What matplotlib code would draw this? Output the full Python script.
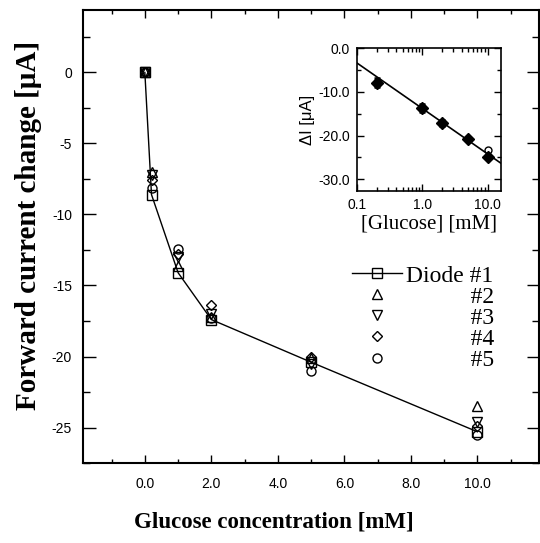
import numpy as np
import matplotlib
matplotlib.use("Agg")
import matplotlib.pyplot as plt
from matplotlib.ticker import MultipleLocator, LogLocator, FixedLocator, NullFormatter

# ---- data ----
glucose = [0.0, 0.2, 1.0, 2.0, 5.0, 10.0]
diode1 = [0.0, -8.6, -14.1, -17.4, -20.4, -25.3]
diode2 = [0.0, -7.0, -13.6, -17.2, -20.1, -23.5]
diode3 = [0.0, -7.2, -13.0, -17.0, -20.5, -24.6]
diode4 = [0.0, -7.6, -12.8, -16.4, -20.0, -24.9]
diode5 = [0.0, -8.1, -12.4, -17.3, -21.0, -25.5]
series_labels = ["Diode #1", "#2", "#3", "#4", "#5"]

inset_glucose = [0.2, 1.0, 2.0, 5.0, 10.0]
inset_mean = [-7.9, -13.7, -17.1, -20.8, -24.9]
inset_err = [1.0, 1.0, 0.6, 0.5, 0.5]
inset_open_x = [10.0]
inset_open_y = [-23.4]
fit_at_1mM = -13.8
fit_slope_per_decade = -10.4

xticks = [0, 2, 4, 6, 8, 10]
xticklabels = ["0.0", "2.0", "4.0", "6.0", "8.0", "10.0"]
yticks = [0, -5, -10, -15, -20, -25]
yticklabels = ["0", "-5", "-10", "-15", "-20", "-25"]
inset_xticks = [0.1, 1.0, 10.0]
inset_xticklabels = ["0.1", "1.0", "10.0"]
inset_yticks = [0, -10, -20, -30]
inset_yticklabels = ["0.0", "-10.0", "-20.0", "-30.0"]

serif = ["Liberation Serif", "DejaVu Serif"]
sans = ["Liberation Sans", "DejaVu Sans"]

fig = plt.figure(figsize=(5.40, 5.43), dpi=100)
ax = fig.add_axes([0.1537, 0.1473, 0.8443, 0.8343])

indent = " " * 11
labs = [series_labels[0]] + [indent + s for s in series_labels[1:]]

mk = dict(color="black", mfc="none", mec="black", ms=6.5, mew=1.0)
ax.plot(glucose, diode1, marker="s", lw=1.0, label=labs[0], **mk)
ax.plot(glucose, diode2, marker="^", ls="none", label=labs[1], **mk)
ax.plot(glucose, diode3, marker="v", ls="none", label=labs[2], **mk)
ax.plot(glucose, diode4, marker="D", ls="none", label=labs[3], **dict(mk, ms=5.5))
ax.plot(glucose, diode5, marker="o", ls="none", label=labs[4], **mk)

ax.set_xlim(-1.86, 11.85)
ax.set_ylim(-27.5, 4.4)
ax.set_xticks(xticks)
ax.set_xticklabels(xticklabels, family=sans, fontsize=10)
ax.set_yticks(yticks)
ax.set_yticklabels(yticklabels, family=sans, fontsize=10)
ax.xaxis.set_minor_locator(MultipleLocator(1))
ax.yaxis.set_minor_locator(MultipleLocator(2.5))
ax.tick_params(axis="both", which="both", direction="in", top=True, right=True, width=1.0)
ax.tick_params(axis="x", which="major", length=6, pad=10)
ax.tick_params(axis="x", which="minor", length=3)
ax.tick_params(axis="y", which="major", length=9, pad=8)
ax.tick_params(axis="y", which="minor", length=5)
for s in ax.spines.values():
    s.set_linewidth(1.5)

ax.set_xlabel("Glucose concentration [mM]", family=serif, fontweight="bold", fontsize=16.5)
ax.xaxis.set_label_coords(0.418, -0.107)
ax.set_ylabel("Forward current change [μA]", family=serif, fontweight="bold", fontsize=21)
ax.yaxis.set_label_coords(-0.09, 0.525)

leg = ax.legend(loc="upper left", bbox_to_anchor=(0.59, 0.437), frameon=False,
                prop={"family": serif, "size": 17}, handlelength=2.1, handletextpad=0.2,
                labelspacing=-0.02, borderpad=0, borderaxespad=0, numpoints=1)

# ---- inset ----
ins = fig.add_axes([0.661, 0.648, 0.2667, 0.2634])
xfit = np.array([0.1, 16.0])
ins.plot(xfit, fit_at_1mM + fit_slope_per_decade * np.log10(xfit), color="black", lw=1.2)
ins.errorbar(inset_glucose, inset_mean, yerr=inset_err, fmt="D", color="black", ms=6,
             capsize=2.5, elinewidth=1.8, capthick=1.8)
ins.plot(inset_open_x, inset_open_y, "o", mfc="none", mec="black", ms=5)
ins.set_xscale("log")
ins.set_xlim(0.1, 16)
ins.set_ylim(-32.7, 0)
ins.xaxis.set_major_locator(FixedLocator(inset_xticks))
ins.set_xticklabels(inset_xticklabels, family=sans, fontsize=10)
ins.xaxis.set_minor_locator(LogLocator(base=10, subs=np.arange(2, 10)))
ins.xaxis.set_minor_formatter(NullFormatter())
ins.set_yticks(inset_yticks)
ins.set_yticklabels(inset_yticklabels, family=sans, fontsize=10)
ins.yaxis.set_minor_locator(MultipleLocator(5))
ins.tick_params(axis="both", which="both", direction="in", top=True, right=True, width=1.0)
ins.tick_params(which="major", length=5, pad=5)
ins.tick_params(which="minor", length=3)
for s in ins.spines.values():
    s.set_linewidth(1.2)
ins.set_xlabel("[Glucose] [mM]", family=serif, fontsize=15, labelpad=2)
ins.set_ylabel("ΔI [μA]", family=sans, fontsize=12, labelpad=2)

fig.savefig("out.png", dpi=100)
